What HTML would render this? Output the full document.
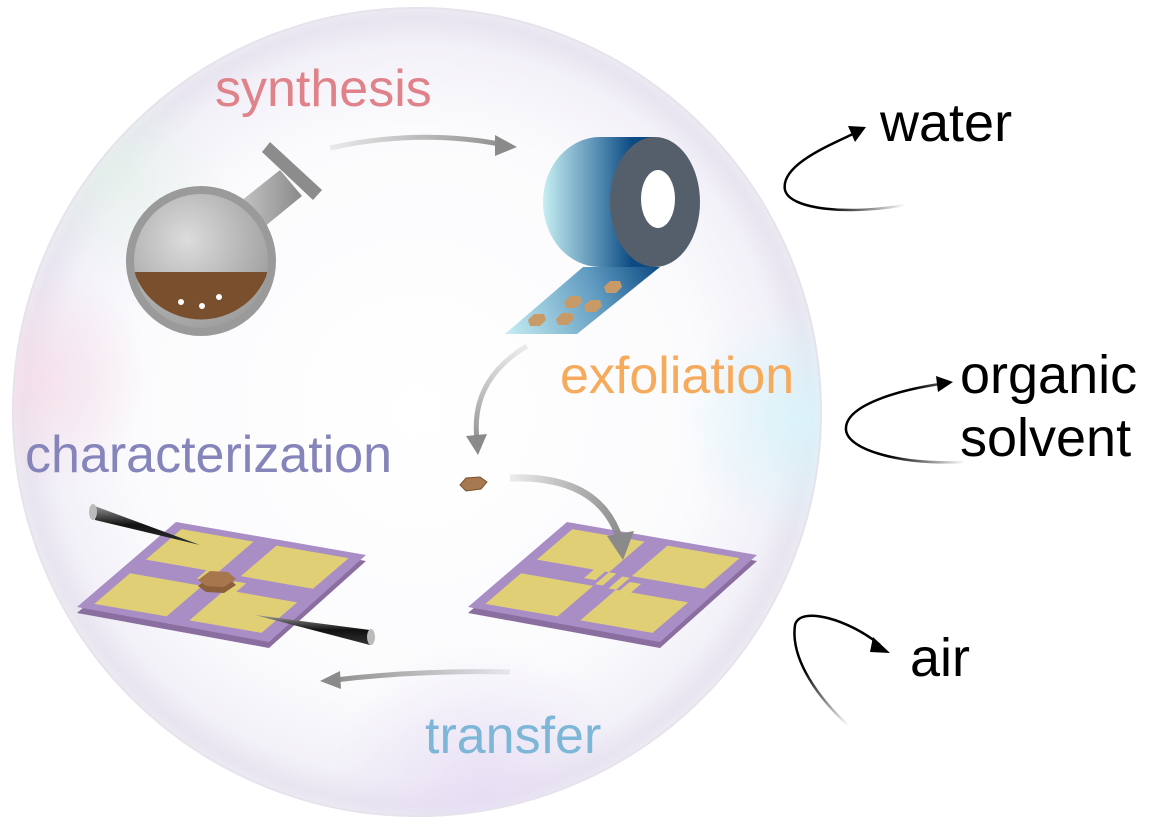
<!DOCTYPE html>
<html><head><meta charset="utf-8"><style>
html,body{margin:0;padding:0;background:#fff;width:1149px;height:835px;overflow:hidden;}
svg{display:block;}
text{font-family:"Liberation Sans",Arial,sans-serif;}
</style></head><body>
<svg width="1149" height="835" viewBox="0 0 1149 835" xmlns="http://www.w3.org/2000/svg">
<defs>
<radialGradient id="sph" cx="417" cy="412" r="406" gradientUnits="userSpaceOnUse">
<stop offset="0" stop-color="#ffffff"/>
<stop offset="0.7" stop-color="#fbfbfd"/>
<stop offset="0.9" stop-color="#f3f1f8"/>
<stop offset="0.97" stop-color="#e8e4f0"/>
<stop offset="1" stop-color="#eeebf3"/>
</radialGradient>
<radialGradient id="cy" cx="800" cy="420" r="120" gradientUnits="userSpaceOnUse">
<stop offset="0" stop-color="#d8f4fa" stop-opacity="0.9"/><stop offset="1" stop-color="#d8f4fa" stop-opacity="0"/></radialGradient>
<radialGradient id="pk" cx="40" cy="380" r="110" gradientUnits="userSpaceOnUse">
<stop offset="0" stop-color="#f6dde8" stop-opacity="0.8"/><stop offset="1" stop-color="#f6dde8" stop-opacity="0"/></radialGradient>
<radialGradient id="pu" cx="480" cy="790" r="150" gradientUnits="userSpaceOnUse">
<stop offset="0" stop-color="#e6dcf4" stop-opacity="0.8"/><stop offset="1" stop-color="#e6dcf4" stop-opacity="0"/></radialGradient>
<radialGradient id="gr" cx="110" cy="170" r="110" gradientUnits="userSpaceOnUse">
<stop offset="0" stop-color="#e2f2e8" stop-opacity="0.7"/><stop offset="1" stop-color="#e2f2e8" stop-opacity="0"/></radialGradient>
<clipPath id="sc"><circle cx="417" cy="412" r="405"/></clipPath>
<radialGradient id="flask" cx="0.4" cy="0.35" r="0.7">
<stop offset="0" stop-color="#dcdcdc"/><stop offset="1" stop-color="#9a9a9a"/></radialGradient>
<linearGradient id="neck" x1="0" y1="0" x2="1" y2="0">
<stop offset="0" stop-color="#c8c8c8"/><stop offset="1" stop-color="#8a8a8a"/></linearGradient>
<linearGradient id="roll" x1="543" y1="0" x2="648" y2="0" gradientUnits="userSpaceOnUse">
<stop offset="0" stop-color="#c6eef2"/><stop offset="0.5" stop-color="#5b91b5"/><stop offset="0.85" stop-color="#0b4a82"/><stop offset="1" stop-color="#0b4a82"/></linearGradient>
<linearGradient id="strip" x1="505" y1="334" x2="660" y2="267" gradientUnits="userSpaceOnUse">
<stop offset="0" stop-color="#c6eef2"/><stop offset="0.6" stop-color="#5f9ac0"/><stop offset="1" stop-color="#0b4a82"/></linearGradient>
<linearGradient id="gw" x1="905" y1="205" x2="800" y2="160" gradientUnits="userSpaceOnUse">
<stop offset="0" stop-color="#000" stop-opacity="0"/><stop offset="0.6" stop-color="#000"/><stop offset="1" stop-color="#000"/></linearGradient>
<linearGradient id="go" x1="965" y1="462" x2="850" y2="420" gradientUnits="userSpaceOnUse">
<stop offset="0" stop-color="#000" stop-opacity="0"/><stop offset="0.6" stop-color="#000"/><stop offset="1" stop-color="#000"/></linearGradient>
<linearGradient id="ga" x1="850" y1="725" x2="800" y2="620" gradientUnits="userSpaceOnUse">
<stop offset="0" stop-color="#000" stop-opacity="0"/><stop offset="0.6" stop-color="#000"/><stop offset="1" stop-color="#000"/></linearGradient>
<linearGradient id="probe1" x1="0" y1="0" x2="0" y2="1">
<stop offset="0" stop-color="#999"/><stop offset="0.5" stop-color="#111"/><stop offset="1" stop-color="#333"/></linearGradient>
<linearGradient id="ga1" x1="330" y1="0" x2="515" y2="0" gradientUnits="userSpaceOnUse">
<stop offset="0" stop-color="#8a8a8a" stop-opacity="0.15"/><stop offset="1" stop-color="#8a8a8a"/></linearGradient>
<linearGradient id="ga2" x1="0" y1="345" x2="0" y2="450" gradientUnits="userSpaceOnUse">
<stop offset="0" stop-color="#8a8a8a" stop-opacity="0.15"/><stop offset="1" stop-color="#8a8a8a"/></linearGradient>
<linearGradient id="ga3" x1="510" y1="0" x2="625" y2="0" gradientUnits="userSpaceOnUse">
<stop offset="0" stop-color="#8a8a8a" stop-opacity="0.15"/><stop offset="1" stop-color="#8a8a8a"/></linearGradient>
<linearGradient id="ga4" x1="510" y1="0" x2="325" y2="0" gradientUnits="userSpaceOnUse">
<stop offset="0" stop-color="#8a8a8a" stop-opacity="0.15"/><stop offset="1" stop-color="#8a8a8a"/></linearGradient>
</defs>

<circle cx="417" cy="412" r="405" fill="url(#sph)"/>
<g clip-path="url(#sc)">
<circle cx="800" cy="420" r="120" fill="url(#cy)"/>
<circle cx="40" cy="380" r="110" fill="url(#pk)"/>
<circle cx="480" cy="790" r="150" fill="url(#pu)"/>
<circle cx="110" cy="170" r="110" fill="url(#gr)"/>
<circle cx="560" cy="30" r="100" fill="url(#pu)"/>
</g>
<circle cx="417" cy="412" r="404" fill="none" stroke="#e6e3ec" stroke-width="2"/>

<!-- flask -->
<g>
<polygon points="236,205 280,170 302,196 258,232" fill="url(#neck)"/>
<polygon points="262,152 270,142 322,190 313,200" fill="#8c8c8c"/>
<circle cx="201" cy="261" r="71" fill="url(#flask)"/>
<path d="M134,272 L268,272 A71,71 0 0 1 134,272 Z" fill="#7a4f2d"/>
<circle cx="201" cy="261" r="71" fill="none" stroke="#9a9a9a" stroke-width="8"/>
<circle cx="181" cy="302" r="3" fill="#fff"/><circle cx="202" cy="306" r="3" fill="#fff"/><circle cx="219" cy="297" r="3" fill="#fff"/>
</g>

<!-- tape roll -->
<g>
<polygon points="505,334 577,334 660,267 583,267" fill="url(#strip)"/>
<g fill="#c89a68">
<polygon points="528,320 534,314 544,314 546,320 540,326 530,326"/>
<polygon points="556,319 562,313 572,313 574,319 568,325 558,325"/>
<polygon points="564,302 570,296 580,296 582,302 576,308 566,308"/>
<polygon points="584,306 590,300 600,300 602,306 596,312 586,312"/>
<polygon points="604,287 610,281 620,281 622,287 616,293 606,293"/>
</g>
<path d="M600,137 L655,137 L655,267 L600,267 A57,65 0 0 1 600,137 Z" fill="url(#roll)"/>
<ellipse cx="655" cy="202" rx="45" ry="65" fill="#555f6b"/>
<ellipse cx="658" cy="199" rx="17" ry="29" fill="#fff"/>
</g>

<!-- gray process arrows -->
<path d="M330,148 Q420,128 505,145" fill="none" stroke="url(#ga1)" stroke-width="5"/>
<polygon points="495,135 517,147 495,156" fill="#8a8a8a"/>
<path d="M527,346 Q470,380 477,440" fill="none" stroke="url(#ga2)" stroke-width="5"/>
<polygon points="466,436 478,455 487,434" fill="#8a8a8a"/>
<path d="M510,672 Q420,670 335,680" fill="none" stroke="url(#ga4)" stroke-width="5"/>
<polygon points="340,671 320,681 341,689" fill="#8a8a8a"/>

<polygon points="460,485 466,478 480,477 487,482 481,489 466,491" fill="#a87850" stroke="#7a5232" stroke-width="1"/>

<!-- right chip -->
<g>
<polygon points="468,607 567,522 757,555 660,642" fill="#8a6ea0" transform="translate(0,6)"/>
<polygon points="468,607 567,522 757,555 660,642" fill="#a98ec6"/>
<g transform="matrix(1.90,0.33,0.99,-0.85,468,607)" fill="#e0cf74">
<rect x="6" y="58" width="38" height="36"/>
<rect x="56" y="58" width="38" height="36"/>
<rect x="6" y="6" width="38" height="36"/>
<rect x="56" y="6" width="38" height="36"/>
<rect x="36" y="48" width="6" height="12"/>
<rect x="44" y="44" width="4" height="14"/>
<rect x="52" y="42" width="4" height="14"/>
<rect x="58" y="40" width="6" height="12"/>
</g>
</g>
<path d="M510,478 Q600,475 620,540" fill="none" stroke="url(#ga3)" stroke-width="7"/>
<polygon points="607,536 623,560 634,531" fill="#8a8a8a"/>

<!-- left chip -->
<g>
<polygon points="77,607 176,522 366,555 269,642" fill="#8a6ea0" transform="translate(0,6)"/>
<polygon points="77,607 176,522 366,555 269,642" fill="#a98ec6"/>
<g transform="matrix(1.90,0.33,0.99,-0.85,77,607)" fill="#e0cf74">
<rect x="6" y="58" width="38" height="36"/>
<rect x="56" y="58" width="38" height="36"/>
<rect x="6" y="6" width="38" height="36"/>
<rect x="56" y="6" width="38" height="36"/>
<rect x="38" y="48" width="6" height="12"/>
<rect x="56" y="40" width="6" height="12"/>
</g>
<polygon points="198,583 210,574 228,575 236,582 224,590 206,589" fill="#8b5e3c" transform="translate(0,3)"/>
<polygon points="198,580 210,571 228,572 236,579 224,587 206,586" fill="#a8764c"/>
<polygon points="92,505 95,520 200,545" fill="url(#probe1)"/>
<ellipse cx="93" cy="512" rx="4" ry="8" fill="#bbb"/>
<polygon points="255,615 370,630 370,645" fill="url(#probe1)"/>
<ellipse cx="371" cy="637" rx="4" ry="8" fill="#bbb"/>
</g>

<text x="215" y="106" font-size="52" fill="#e0828a">synthesis</text>
<text x="560" y="393" font-size="52" fill="#f5aa5c">exfoliation</text>
<text x="25" y="472" font-size="52" fill="#8585bb">characterization</text>
<text x="425" y="753" font-size="52" fill="#7eb6d8">transfer</text>

<text x="880" y="141" font-size="54" fill="#000">water</text>
<text x="960" y="393" font-size="54" fill="#000">organic</text>
<text x="960" y="456" font-size="54" fill="#000">solvent</text>
<text x="910" y="676" font-size="54" fill="#000">air</text>

<path d="M905,205 C850,215 790,210 785,190 C780,165 830,145 855,133" fill="none" stroke="url(#gw)" stroke-width="2.5"/>
<polygon points="848,126 866,127 855,142" fill="#000"/>
<path d="M965,462 C900,465 848,450 846,430 C844,405 900,390 940,384" fill="none" stroke="url(#go)" stroke-width="2.5"/>
<polygon points="936,376 953,382 938,392" fill="#000"/>
<path d="M850,727 C820,700 790,660 795,625 C800,605 850,620 880,645" fill="none" stroke="url(#ga)" stroke-width="2.5"/>
<polygon points="873,637 890,653 870,652" fill="#000"/>
</svg>
</body></html>
